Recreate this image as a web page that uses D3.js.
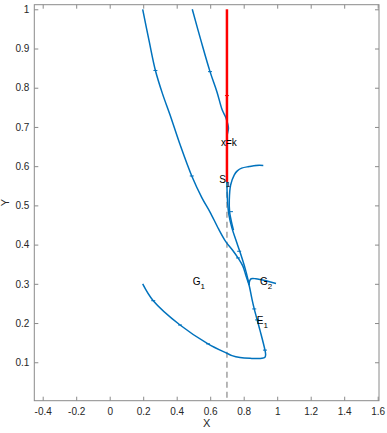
<html>
<head>
<meta charset="utf-8">
<style>
  body { margin: 0; background: #fff; }
  text { font-family: "Liberation Sans", Arial, sans-serif; }
</style>
</head>
<body>
<svg id="chart" width="387" height="433"></svg>
<script src="https://cdn.jsdelivr.net/npm/d3@7"></script>
<script>
// tick values
const xTicks = [-0.4, -0.2, 0, 0.2, 0.4, 0.6, 0.8, 1, 1.2, 1.4, 1.6]
const yTicks = [0.1, 0.2, 0.3, 0.4, 0.5, 0.6, 0.7, 0.8, 0.9, 1]

// x = k line
const kValue = 0.7
const kTop = 1.0
const kBottom = 0.56

// trajectory from top-left, down to the junction, round the corner to the lower left
const trajAx = [0.197, 0.235, 0.273, 0.315, 0.36, 0.42, 0.49, 0.55, 0.599, 0.65, 0.694, 0.735, 0.766, 0.795, 0.814, 0.832,
                0.848, 0.863, 0.897, 0.927, 0.931, 0.927, 0.909, 0.838, 0.778, 0.73, 0.699, 0.587, 0.42, 0.26, 0.197]
const trajAy = [1.0, 0.92, 0.844, 0.785, 0.731, 0.655, 0.575, 0.52, 0.483, 0.44, 0.407, 0.385, 0.366, 0.345, 0.32, 0.297,
                0.264, 0.236, 0.182, 0.131, 0.119, 0.113, 0.11, 0.11, 0.112, 0.117, 0.123, 0.147, 0.195, 0.257, 0.3]

// trajectory from top, onto x = k, then down to the junction
const trajBx = [0.493, 0.545, 0.599, 0.64, 0.672, 0.694, 0.709, 0.701, 0.7, 0.7, 0.703, 0.712, 0.73, 0.754, 0.778, 0.808, 0.826, 0.832]
const trajBy = [1.0, 0.92, 0.841, 0.79, 0.743, 0.723, 0.697, 0.677, 0.616, 0.553, 0.514, 0.475, 0.442, 0.411, 0.381, 0.34, 0.31, 0.297]

// trajectory from the right near y = 0.6, bending down to S1
const trajCx = [0.917, 0.878, 0.832, 0.788, 0.762, 0.744, 0.722, 0.714, 0.716, 0.727, 0.739]
const trajCy = [0.602, 0.602, 0.599, 0.595, 0.588, 0.578, 0.552, 0.514, 0.483, 0.458, 0.437]

// short branch at G2
const trajGx = [0.832, 0.836, 0.845, 0.872, 0.899, 0.993]
const trajGy = [0.297, 0.308, 0.313, 0.313, 0.311, 0.301]

// direction marks along the curves
const markX = [0.273, 0.49, 0.766, 0.599, 0.7, 0.878, 0.724, 0.773, 0.863, 0.927, 0.26, 0.42, 0.587, 0.88]
const markY = [0.844, 0.575, 0.366, 0.841, 0.78, 0.602, 0.484, 0.383, 0.236, 0.131, 0.257, 0.195, 0.147, 0.208]

// labels
const labels = [
    {t: "x=k", sub: "", x: 0.712, y: 0.651},
    {t: "S", sub: "1", x: 0.654, y: 0.556},
    {t: "G", sub: "1", x: 0.496, y: 0.297},
    {t: "G", sub: "2", x: 0.897, y: 0.297},
    {t: "E", sub: "1", x: 0.878, y: 0.198}
]

const svg = d3.select("#chart")
const padL = 34.3, padR = 379, padT = 4.7, padB = 400.7

const x = d3.scaleLinear().domain([-0.4501, 1.6078]).range([padL, padR])
const y = d3.scaleLinear().domain([0.002, 1.0117]).range([padB, padT])

const axisColor = "#8a8a8a"
const textColor = "#262626"
const fmt = d => String(d)

function styleAxis(g) {
    g.select(".domain").remove()
    g.selectAll(".tick line").attr("stroke", axisColor)
    g.selectAll(".tick text").attr("fill", textColor).style("font-size", "10px")
}

svg.append("g").attr("transform", `translate(0,${padB})`)
    .call(d3.axisBottom(x).tickValues(xTicks).tickSize(-4).tickPadding(7).tickFormat(fmt))
    .call(styleAxis)
svg.append("g").attr("transform", `translate(0,${padT})`)
    .call(d3.axisTop(x).tickValues(xTicks).tickSize(-4).tickFormat(""))
    .call(styleAxis)
svg.append("g").attr("transform", `translate(${padL},0)`)
    .call(d3.axisLeft(y).tickValues(yTicks).tickSize(-4).tickPadding(5).tickFormat(fmt))
    .call(styleAxis)
svg.append("g").attr("transform", `translate(${padR},0)`)
    .call(d3.axisRight(y).tickValues(yTicks).tickSize(-4).tickFormat(""))
    .call(styleAxis)

svg.append("rect")
    .attr("x", padL).attr("y", padT)
    .attr("width", padR - padL).attr("height", padB - padT)
    .attr("fill", "none").attr("stroke", axisColor)

// dashed x = k below S1
svg.append("line")
    .attr("x1", x(kValue)).attr("x2", x(kValue))
    .attr("y1", y(kBottom)).attr("y2", padB)
    .attr("stroke", "#a0a0a0").attr("stroke-width", 1.5)
    .attr("stroke-dasharray", "6,4")

const line = d3.line().x(d => x(d[0])).y(d => y(d[1])).curve(d3.curveCatmullRom)
const blue = "#0072BD"

const trajs = [[trajAx, trajAy], [trajBx, trajBy], [trajCx, trajCy], [trajGx, trajGy]]
trajs.forEach(([xs, ys]) => {
    svg.append("path")
        .datum(xs.map((v, i) => [v, ys[i]]))
        .attr("d", line)
        .attr("fill", "none")
        .attr("stroke", blue)
        .attr("stroke-width", 1.5)
})

// red x = k segment
svg.append("line")
    .attr("x1", x(kValue)).attr("x2", x(kValue))
    .attr("y1", y(kTop)).attr("y2", y(kBottom))
    .attr("stroke", "#ff0000").attr("stroke-width", 2.5)

svg.selectAll(".mark")
    .data(markX.map((v, i) => [v, markY[i]]))
    .enter().append("line")
    .attr("class", "mark")
    .attr("x1", d => x(d[0]) - 2).attr("x2", d => x(d[0]) + 2)
    .attr("y1", d => y(d[1])).attr("y2", d => y(d[1]))
    .attr("stroke", (d, i) => i === 4 ? "#ff0000" : blue)
    .attr("stroke-width", 1)

labels.forEach(l => {
    let t = svg.append("text")
        .attr("x", x(l.x)).attr("y", y(l.y))
        .attr("fill", "#000")
        .style("font-size", "10px")
        .attr("text-anchor", l.sub ? "start" : "middle")
        .text(l.t)
    if (l.sub) {
        t.append("tspan").attr("dy", 4).style("font-size", "8px").text(l.sub)
    }
})

svg.append("text")
    .attr("x", (padL + padR) / 2).attr("y", 427)
    .attr("text-anchor", "middle").attr("fill", textColor)
    .style("font-size", "11px").text("X")
svg.append("text")
    .attr("transform", `translate(9,${(padT + padB) / 2}) rotate(-90)`)
    .attr("text-anchor", "middle").attr("fill", textColor)
    .style("font-size", "11px").text("Y")
</script>
</body>
</html>
